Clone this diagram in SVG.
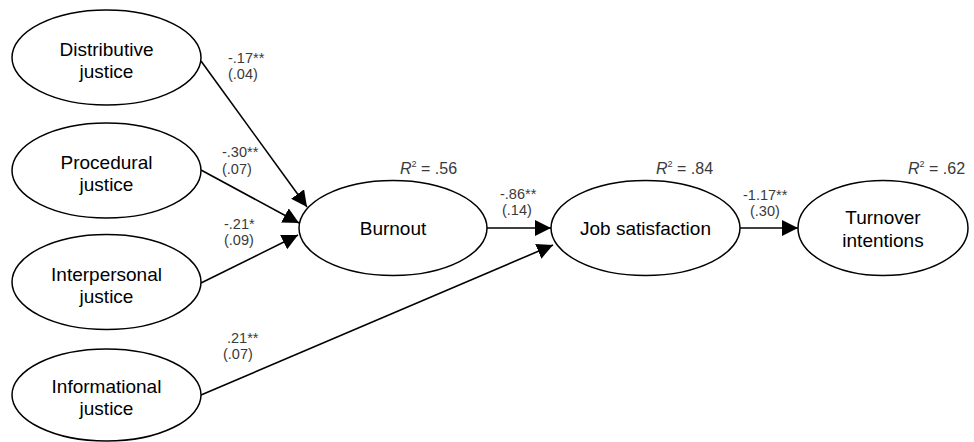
<svg xmlns="http://www.w3.org/2000/svg" width="974" height="442" viewBox="0 0 974 442">
<style>
.node ellipse{fill:#fff;stroke:#000;stroke-width:1.5}
.nt{font-family:"Liberation Sans",Arial,sans-serif;font-size:19px;fill:#000;text-anchor:middle}
.lb{font-family:"Liberation Sans",Arial,sans-serif;font-size:14.5px;fill:#3a3a3a}
.r2{font-family:"Liberation Sans",Arial,sans-serif;font-size:16px;fill:#3a3a3a}
#connectors line{stroke:#000;stroke-width:1.6;marker-end:url(#ah)}
</style>
<defs>
<marker id="ah" markerUnits="userSpaceOnUse" markerWidth="17" markerHeight="16" refX="16" refY="8" orient="auto">
<path d="M0,0 L16,8 L0,16 Z" fill="#000"/>
</marker>
</defs>
<rect width="974" height="442" fill="#fff"/>
<g id="connectors">
<line x1="201" y1="61" x2="307" y2="207"/>
<line x1="201" y1="170" x2="299" y2="223"/>
<line x1="201" y1="283" x2="298" y2="235"/>
<line x1="201" y1="395" x2="553" y2="245"/>
<line x1="487" y1="228" x2="551" y2="228"/>
<line x1="740" y1="228" x2="798" y2="228"/>
</g>
<g id="distributive" class="node">
<ellipse cx="106.5" cy="57.5" rx="94.5" ry="47.5"/>
<text class="nt" x="106.5" y="56">Distributive</text>
<text class="nt" x="106.5" y="78">justice</text>
</g>
<g id="procedural" class="node">
<ellipse cx="106.5" cy="170.5" rx="94.5" ry="47.5"/>
<text class="nt" x="106.5" y="169">Procedural</text>
<text class="nt" x="106.5" y="191">justice</text>
</g>
<g id="interpersonal" class="node">
<ellipse cx="106.5" cy="282" rx="94.5" ry="47.5"/>
<text class="nt" x="106.5" y="281">Interpersonal</text>
<text class="nt" x="106.5" y="303">justice</text>
</g>
<g id="informational" class="node">
<ellipse cx="106.5" cy="395" rx="94.5" ry="46"/>
<text class="nt" x="106.5" y="393">Informational</text>
<text class="nt" x="106.5" y="415">justice</text>
</g>
<g id="burnout" class="node">
<ellipse cx="393" cy="228" rx="94" ry="47.5"/>
<text class="nt" x="393" y="235">Burnout</text>
</g>
<g id="jobsat" class="node">
<ellipse cx="645.5" cy="228" rx="94.5" ry="47.5"/>
<text class="nt" x="645.5" y="235">Job satisfaction</text>
</g>
<g id="turnover" class="node">
<ellipse cx="883" cy="228" rx="85" ry="47.5"/>
<text class="nt" x="883" y="224">Turnover</text>
<text class="nt" x="883" y="247">intentions</text>
</g>
<g id="labels">
<text class="lb" x="228" y="63">-.17**</text>
<text class="lb" x="228" y="79">(.04)</text>
<text class="lb" x="222" y="157">-.30**</text>
<text class="lb" x="222" y="174">(.07)</text>
<text class="lb" x="224" y="229">-.21*</text>
<text class="lb" x="224" y="245">(.09)</text>
<text class="lb" x="227" y="343">.21**</text>
<text class="lb" x="223" y="359">(.07)</text>
<text class="lb" x="500" y="199">-.86**</text>
<text class="lb" x="502" y="215">(.14)</text>
<text class="lb" x="743" y="200">-1.17**</text>
<text class="lb" x="750" y="216">(.30)</text>
<text class="r2" x="400" y="174"><tspan font-style="italic">R</tspan><tspan font-size="9" dy="-7">2</tspan><tspan dy="7"> = .56</tspan></text>
<text class="r2" x="656" y="174"><tspan font-style="italic">R</tspan><tspan font-size="9" dy="-7">2</tspan><tspan dy="7"> = .84</tspan></text>
<text class="r2" x="908" y="174"><tspan font-style="italic">R</tspan><tspan font-size="9" dy="-7">2</tspan><tspan dy="7"> = .62</tspan></text>
</g>
</svg>
